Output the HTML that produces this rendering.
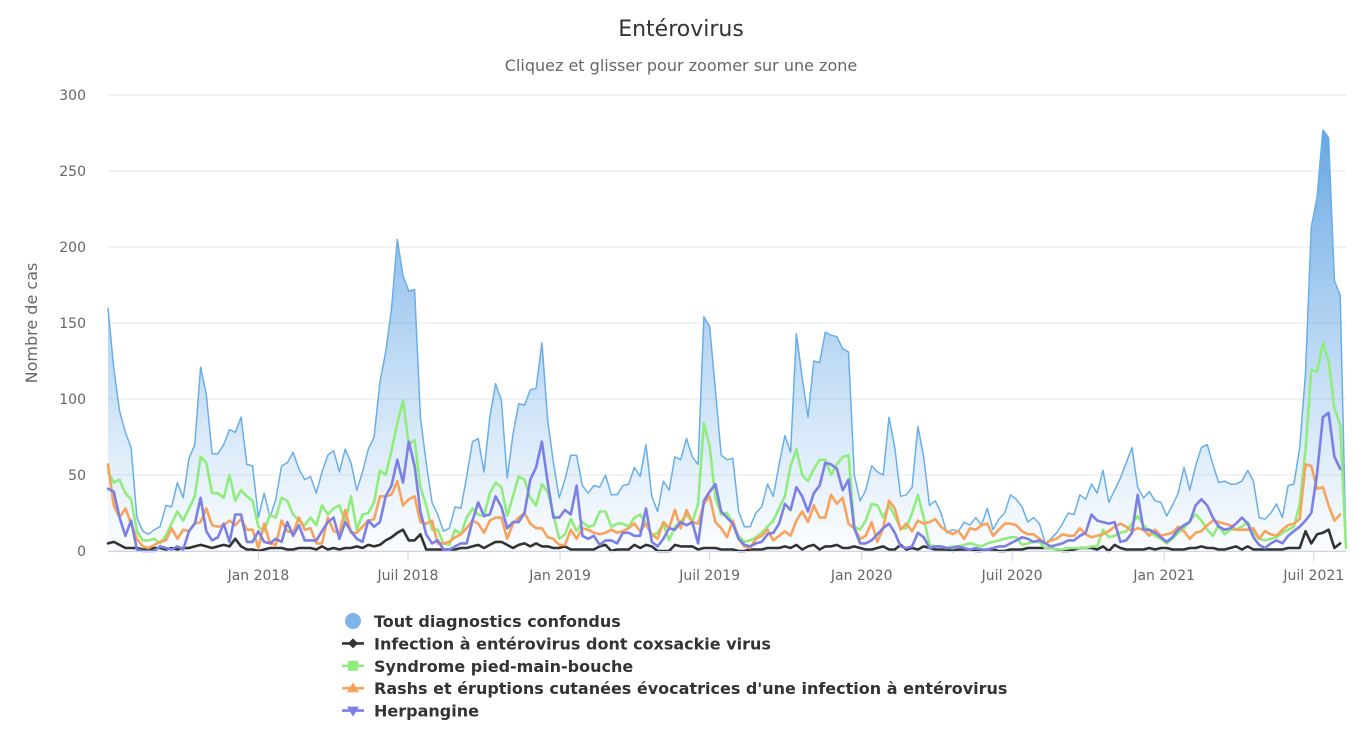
<!DOCTYPE html>
<html><head><meta charset="utf-8">
<style>
body{margin:0;background:#fff;font-family:"DejaVu Sans",sans-serif;}
svg text{font-family:"DejaVu Sans",sans-serif;}
</style></head>
<body>
<svg id="chart" width="1362" height="741" viewBox="0 0 1362 741" xmlns="http://www.w3.org/2000/svg">
<defs>
<linearGradient id="areaGrad" gradientUnits="userSpaceOnUse" x1="0" y1="120" x2="0" y2="551">
<stop offset="0" stop-color="#5a9fe0" stop-opacity="0.95"/>
<stop offset="1" stop-color="#7cb5ec" stop-opacity="0.03"/>
</linearGradient>
</defs>
<text x="681" y="36" text-anchor="middle" font-size="22" fill="#333">Entérovirus</text>
<text x="681" y="71" text-anchor="middle" font-size="16" fill="#666">Cliquez et glisser pour zoomer sur une zone</text>
<text transform="translate(37,323) rotate(-90)" text-anchor="middle" font-size="16" fill="#666">Nombre de cas</text>
<g id="grid"></g>
<g id="series"></g>
<g id="xaxis"></g>
<g id="legend"></g>
</svg>
<script>
const yTicks=[0,50,100,150,200,250,300];
const xTickLabels=["Jan 2018","Juil 2018","Jan 2019","Juil 2019","Jan 2020","Juil 2020","Jan 2021","Juil 2021"];
const xTickDates=["2018-01-01","2018-07-01","2019-01-01","2019-07-01","2020-01-01","2020-07-01","2021-01-01","2021-07-01"];
const startDate="2017-07-03";
const tout=[160,120,92,78,68,22,13,11,14,16,30,29,45,35,61,70,121,103,64,64,70,80,78,88,57,56,22,38,22,34,56,58,65,54,47,
49,38,52,63,66,52,67,58,40,52,67,75,111,131,159,205,181,171,172,88,58,32,24,13,15,29,28,49,72,74,52,88,110,99,48,77,97,96,
106,107,137,86,58,35,47,63,63,43,38,43,42,50,37,37,43,44,55,49,70,36,26,46,40,62,60,74,62,57,154,148,106,63,60,
61,26,16,16,25,29,44,36,57,76,65,143,114,88,125,124,144,142,141,133,131,50,33,40,56,52,50,88,68,36,37,42,82,62,30,33,25,
12,14,13,19,17,22,17,28,14,21,25,37,34,29,19,22,18,5,8,12,18,25,24,37,34,44,38,53,32,40,48,58,68,42,35,39,
33,32,23,30,38,55,40,56,68,70,57,45,46,44,44,46,53,46,22,21,25,31,22,43,44,68,117,213,233,277,272,178,168,2];
const infection=[5,6,4,2,2,2,1,1,2,2,1,2,1,2,2,3,4,3,2,3,4,3,8,3,1,1,0,1,2,2,2,1,1,2,2,
2,1,3,1,2,1,2,2,3,2,4,3,4,7,9,12,14,7,7,11,1,1,1,1,1,1,2,2,3,4,2,4,6,6,4,2,4,5,
3,5,3,3,2,2,3,1,1,1,1,1,3,4,0,1,1,1,4,2,4,3,0,0,0,4,3,3,3,1,2,2,2,1,1,
1,0,0,1,1,1,2,2,2,3,2,4,1,3,4,1,3,3,4,2,2,3,2,1,1,2,3,1,1,4,1,2,1,3,2,1,1,
1,0,1,1,1,0,0,1,1,0,0,1,1,1,2,2,2,2,2,1,0,0,1,2,2,2,1,3,0,4,2,1,1,1,1,2,
1,2,2,1,1,1,2,2,3,2,2,1,1,2,3,1,3,1,1,1,1,1,1,2,2,2,13,5,11,12,14,2,5,null];
const pmb=[52,45,47,38,34,13,7,7,8,5,10,18,26,20,28,36,62,58,38,38,35,50,33,40,36,33,16,13,24,22,35,33,24,20,17,
22,17,30,24,28,30,19,36,14,24,25,32,53,50,66,84,99,70,73,42,30,14,14,5,4,14,11,22,28,24,23,38,45,42,23,36,49,47,
35,30,44,39,24,8,11,21,13,19,16,17,26,26,16,18,18,16,22,24,18,10,12,18,7,16,19,24,19,31,84,69,35,24,25,
18,10,6,7,9,12,16,20,28,36,56,67,50,46,54,60,60,50,57,62,63,16,14,20,31,30,22,30,23,15,15,25,37,22,4,3,3,
2,3,3,4,5,4,3,5,6,7,8,9,9,4,5,6,6,2,2,1,1,2,2,2,2,3,3,14,9,10,12,13,18,23,17,13,
10,8,5,8,12,15,20,24,20,14,10,17,11,14,14,16,19,12,8,7,8,9,12,14,16,31,66,119,118,137,125,94,83,2];
const rashs=[57,30,22,28,18,8,3,2,4,6,7,15,8,14,13,18,19,28,17,16,17,20,17,21,14,14,2,18,5,4,20,13,12,22,14,
15,5,5,22,13,12,27,12,12,16,20,21,36,36,37,46,30,34,36,19,18,20,5,5,6,9,11,15,20,18,12,20,22,22,8,18,22,25,
18,15,15,9,8,4,4,14,8,15,14,12,11,12,14,12,13,15,18,13,18,11,8,19,15,27,15,27,19,18,31,36,19,15,9,
20,8,3,2,8,10,14,7,10,13,10,20,26,19,30,22,22,37,31,35,18,15,8,10,19,6,15,33,28,14,18,13,20,18,19,21,16,
13,11,13,8,15,14,17,18,10,14,18,18,17,13,11,11,8,5,7,8,11,10,10,15,11,9,10,11,13,16,18,16,13,15,14,10,
14,10,11,12,16,13,8,12,13,17,20,19,18,17,14,14,14,15,8,13,11,10,14,17,18,21,57,56,41,42,30,20,24,null];
const herp=[41,39,22,10,20,1,0,0,0,3,2,1,3,1,13,18,35,13,7,9,18,6,24,24,6,6,13,6,5,8,6,19,10,17,7,
7,7,13,19,22,8,19,13,8,6,20,16,19,36,43,60,45,72,56,26,11,5,7,1,1,3,5,5,20,32,23,24,36,29,15,19,19,25,
47,55,72,45,22,22,27,24,43,10,8,10,4,7,7,5,12,12,10,10,28,6,3,8,15,14,19,17,19,5,33,39,44,26,22,
18,8,4,3,5,6,11,12,18,31,27,42,36,26,38,43,58,57,54,40,47,15,5,5,7,11,15,18,12,3,2,3,12,9,2,3,3,
2,2,3,2,1,2,1,1,2,3,3,5,7,9,8,6,7,5,3,4,5,7,7,10,12,24,20,19,18,19,6,7,12,37,14,14,
12,9,6,9,14,17,19,30,34,30,22,16,14,15,18,22,18,9,4,2,5,7,5,10,13,16,20,25,51,88,91,62,54,null];

const NS="http://www.w3.org/2000/svg";
const X0=108,X1=1346,Y0=551,Y1=95,YMAX=300;
const N=tout.length;
function xIdx(i){return X0+i*(X1-X0)/(N-1);}
function y(v){return Y0-(v/YMAX)*(Y0-Y1);}
const DAY=86400000;
function xDate(s){const d=(Date.parse(s)-Date.parse(startDate))/DAY/7;return xIdx(d);}
function mk(tag,attrs,parent){const e=document.createElementNS(NS,tag);for(const k in attrs)e.setAttribute(k,attrs[k]);parent.appendChild(e);return e;}

const grid=document.getElementById('grid');
yTicks.forEach(t=>{
  const l=mk('line',{x1:X0,x2:X1,y1:y(t),y2:y(t),stroke:'#e6e6e6','stroke-width':1},grid);
  
  
  const tx=mk('text',{x:86,y:y(t)+5,'text-anchor':'end','font-size':14,fill:'#666'},grid);
  tx.textContent=t;
  
  
});
const xa=document.getElementById('xaxis');
const axl=mk('line',{x1:X0,x2:X1,y1:Y0+0.5,y2:Y0+0.5,stroke:'#ccd6eb','stroke-width':1},xa);


xTickLabels.forEach((lab,k)=>{
  const xx=xDate(xTickDates[k]);
  const tk=mk('line',{x1:xx,x2:xx,y1:Y0,y2:Y0+10,stroke:'#ccd6eb','stroke-width':1},xa);
  
  
  const tx=mk('text',{x:xx,y:Y0+29,'text-anchor':'middle','font-size':14,fill:'#666'},xa);
  tx.textContent=lab;
  
  
});

const sg=document.getElementById('series');
function linePath(arr){let d='';let pen=false;arr.forEach((v,i)=>{if(v===null){pen=false;return;}d+=(pen?'L':'M')+xIdx(i).toFixed(1)+' '+y(v).toFixed(1);pen=true;});return d;}
let ad='M'+xIdx(0)+' '+Y0;
tout.forEach((v,i)=>{ad+='L'+xIdx(i).toFixed(1)+' '+y(v).toFixed(1);});
ad+='L'+xIdx(N-1)+' '+Y0+'Z';
const area=mk('path',{d:ad,fill:'url(#areaGrad)',stroke:'none'},sg);


const aline=mk('path',{d:linePath(tout),fill:'none',stroke:'#6aaee8','stroke-width':1.5,'stroke-linejoin':'round'},sg);


const series=[[infection,'#333333','infection-line'],[pmb,'#90ed7d','pied-main-bouche-line'],[rashs,'#f7a35c','rashs-line'],[herp,'#7b7fe6','herpangine-line']];
series.forEach(s=>{
  const p=mk('path',{d:linePath(s[0]),fill:'none',stroke:s[1],'stroke-width':2.6,'stroke-linejoin':'round','stroke-linecap':'round'},sg);
  
  
});

const lg=document.getElementById('legend');
const items=[["Tout diagnostics confondus","#7cb5ec","circle"],["Infection à entérovirus dont coxsackie virus","#333333","diamond"],["Syndrome pied-main-bouche","#90ed7d","square"],["Rashs et éruptions cutanées évocatrices d'une infection à entérovirus","#f7a35c","triangle"],["Herpangine","#7b7fe6","triangle-down"]];
items.forEach((it,k)=>{
  const cy=621+k*22.4;
  const g=mk('g',{},lg);
  
  
  const cx=353;
  if(it[2]==='circle'){mk('circle',{cx:cx,cy:cy,r:8,fill:it[1]},g);}
  else{
    mk('line',{x1:cx-11,x2:cx+11,y1:cy,y2:cy,stroke:it[1],'stroke-width':2.6},g);
    let pts;
    if(it[2]==='diamond')pts=[[cx,cy-5],[cx+5,cy],[cx,cy+5],[cx-5,cy]];
    else if(it[2]==='square')pts=[[cx-5,cy-5],[cx+5,cy-5],[cx+5,cy+5],[cx-5,cy+5]];
    else if(it[2]==='triangle')pts=[[cx,cy-6],[cx+6,cy+4],[cx-6,cy+4]];
    else pts=[[cx-6,cy-4],[cx+6,cy-4],[cx,cy+6]];
    mk('polygon',{points:pts.map(p=>p.join(',')).join(' '),fill:it[1]},g);
  }
  const t=mk('text',{x:374,y:cy+6,'font-size':16,'font-weight':'bold',fill:'#333'},g);
  t.textContent=it[0];
});
</script>
</body></html>
